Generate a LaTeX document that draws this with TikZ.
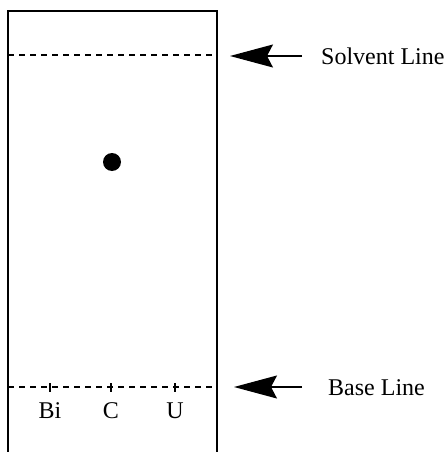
\documentclass[tikz,border=0pt]{standalone}
\usepackage{fontspec}
\setmainfont{Liberation Serif}
\usetikzlibrary{arrows.meta}
\tikzset{
  plate/.style={line width=1.8pt},
  front/.style={line width=1.3pt, dash pattern=on 6pt off 5pt},
  tick/.style={line width=1.3pt},
  lab/.style={font=\fontsize{24}{26}\selectfont, inner sep=0pt},
  pointer/.style={line width=1.2pt, -{Stealth[length=43pt, width=23pt, inset=6pt]}},
  spot/.style={fill=black, circle, inner sep=0pt, minimum size=18pt}
}
\begin{document}
\begin{tikzpicture}[x=1pt,y=-1pt]
\useasboundingbox (0,0) rectangle (446,452);
\draw[plate] (8,452) -- (8,11) -- (217,11) -- (217,452);
\coordinate (sl) at (8,55); \coordinate (sr) at (217,55);
\coordinate (bl) at (8,387); \coordinate (br) at (217,387);
\draw[front] (sl) -- (sr);
\draw[front] (bl) -- (br);
\foreach \x/\n in {50/t1,111/t2,175/t3} {
  \coordinate (\n) at (\x,387);
  \draw[tick] ([yshift=-4.5pt]\n) -- ([yshift=4.5pt]\n);
}
\node[lab] (bi) at (50,411) {Bi};
\node[lab] (c) at (111,411) {C};
\node[lab] (u) at (175,411) {U};
\node[spot] (dot) at (112,162) {};
\node[lab, anchor=west] (solv) at (321,56) {Solvent Line};
\node[lab, anchor=west] (base) at (328,388) {Base Line};
\coordinate (stail) at (302,56); \coordinate (stip) at (230,56);
\coordinate (btail) at (302,387); \coordinate (btip) at (234,387);
\draw[pointer] (stail) -- (stip);
\draw[pointer] (btail) -- (btip);
\end{tikzpicture}
\end{document}
